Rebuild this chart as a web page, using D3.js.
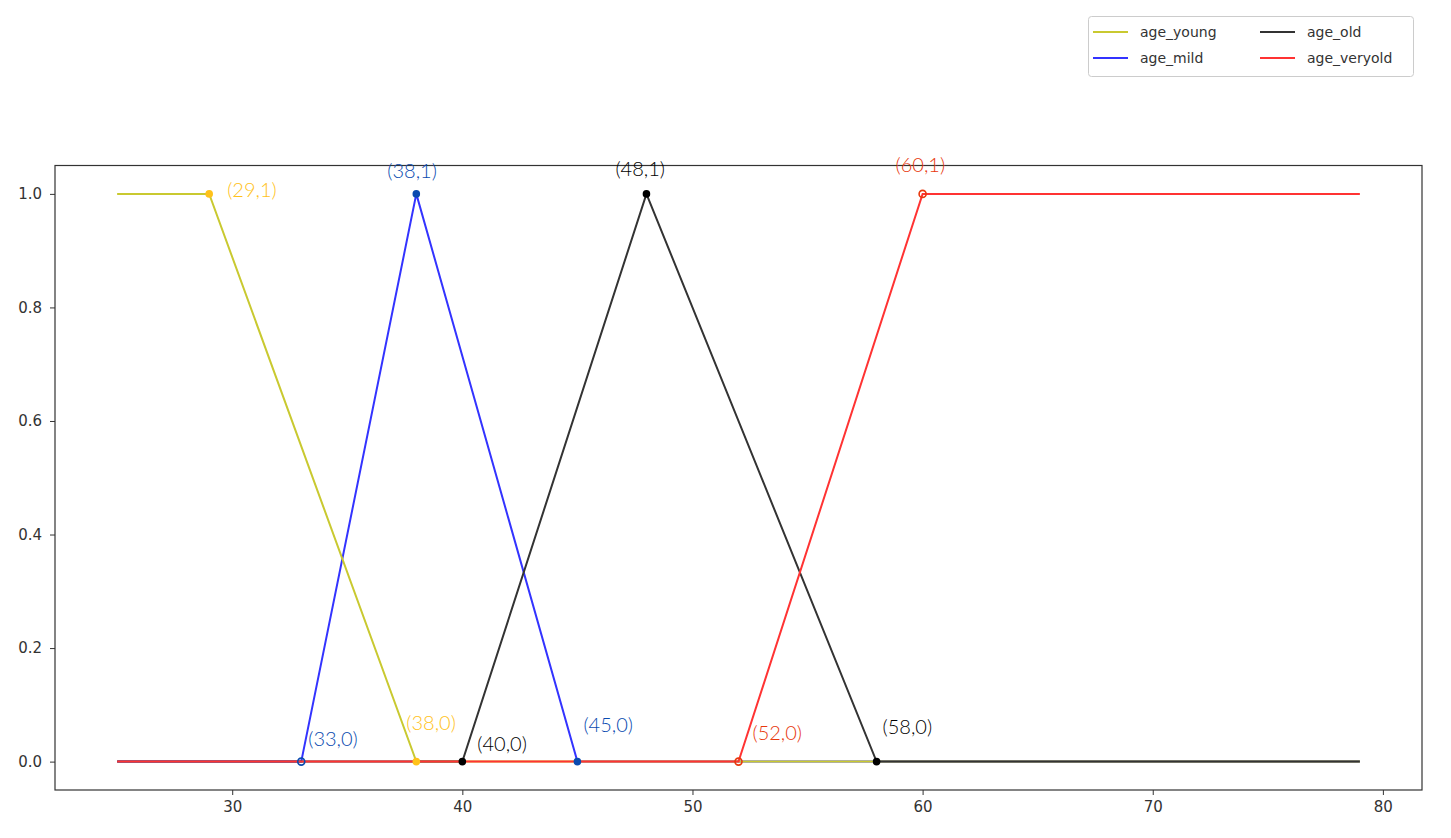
<!DOCTYPE html>
<html><head><meta charset="utf-8">
<script src="https://cdn.jsdelivr.net/npm/d3@7/dist/d3.min.js"></script>
<style>body{margin:0;background:#fff;}svg text{font-family:"DejaVu Sans",sans-serif;}</style>
</head><body>
<svg id="c" width="1451" height="838"></svg>
<script>
// Data
const seriesNames = ["age_young","age_mild","age_old","age_veryold"];
const seriesColors = ["#c9c930","#3333ff","#333333","#ff3333"];
const youngX = [25,29,38,79], youngY = [1,1,0,0];
const mildX = [25,33,38,45,79], mildY = [0,0,1,0,0];
const oldX = [25,40,48,58,79], oldY = [0,0,1,0,0];
const veryoldX = [25,52,60,79], veryoldY = [0,0,1,1];
const xTicks = [30,40,50,60,70,80];
const yTicks = [0.0,0.2,0.4,0.6,0.8,1.0];
// handwritten annotations: label, x, y, colour
const annLabels = ["(29,1)","(38,1)","(48,1)","(60,1)","(33,0)","(38,0)","(40,0)","(45,0)","(52,0)","(58,0)"];
const annX = [29,38,48,60,33,38,40,45,52,58];
const annY = [1,1,1,1,0,0,0,0,0,0];
const annColors = ["#ffc21a","#0a4bb0","#000000","#e8380d","#0a4bb0","#ffc21a","#000000","#0a4bb0","#e8380d","#000000"];

const svg = d3.select("#c");
const L=55, R=1422, T=165.5, B=790;
const x = d3.scaleLinear().domain([22.3,81.7]).range([L,R]);
const y = d3.scaleLinear().domain([-0.05,1.05]).range([B,T]);

const series = seriesNames.map((n,i)=>({name:n, c:seriesColors[i],
  xs:[youngX,mildX,oldX,veryoldX][i], ys:[youngY,mildY,oldY,veryoldY][i]}));
const line = d3.line().x(d=>x(d[0])).y(d=>y(d[1]));
const drawOrder = [1,0,2,3];
drawOrder.forEach(i=>{
  const s=series[i];
  svg.append("path").attr("d", line(s.xs.map((v,j)=>[v,s.ys[j]])))
    .attr("fill","none").attr("stroke",s.c).attr("stroke-width",2);
});

// axes
const xAxis = d3.axisBottom(x).tickValues(xTicks).tickSize(5).tickPadding(6).tickFormat(d3.format("d"));
const gx = svg.append("g").attr("transform",`translate(0,${B})`).call(xAxis);
const yAxis = d3.axisLeft(y).tickValues(yTicks).tickSize(5).tickPadding(8).tickFormat(d3.format(".1f"));
const gy = svg.append("g").attr("transform",`translate(${L},0)`).call(yAxis);
[gx,gy].forEach(g=>{
  g.select(".domain").remove();
  g.selectAll("text").attr("font-size",15).attr("fill","#333").style("font-family","DejaVu Sans");
  g.selectAll("line").attr("stroke","#333");
});
svg.append("rect").attr("x",L).attr("y",T).attr("width",R-L).attr("height",B-T)
  .attr("fill","none").attr("stroke","#333").attr("stroke-width",1.2);

// annotation dots and texts
const dx = [18,-29,-31,-27,7,-10,15,6,14,6];
const dy = [3,-16,-18,-22,-16,-32,-11,-30,-22,-28];
annLabels.forEach((lab,i)=>{
  const px=x(annX[i]), py=y(annY[i]);
  const hollow = (i===3||i===4||i===8);
  svg.append("circle").attr("cx",px).attr("cy",py).attr("r",hollow?3.5:3)
    .attr("fill",hollow?"none":annColors[i]).attr("stroke",annColors[i]).attr("stroke-width",1.6);
  svg.append("text").attr("x",px+dx[i]).attr("y",py+dy[i])
    .attr("font-size",20).attr("fill",annColors[i]).attr("font-weight",300)
    .style("font-family","Lato").text(lab);
});

// legend
const lg = svg.append("g");
lg.append("rect").attr("x",1088.5).attr("y",16.5).attr("width",325).attr("height",60)
  .attr("rx",3).attr("fill","#fff").attr("stroke","#ccc");
const lgPos = [[1093,32],[1093,58],[1260,32],[1260,58]];
series.forEach((s,i)=>{
  const [lx,ly]=lgPos[i];
  lg.append("line").attr("x1",lx).attr("x2",lx+35).attr("y1",ly).attr("y2",ly)
    .attr("stroke",s.c).attr("stroke-width",2);
  lg.append("text").attr("x",lx+47).attr("y",ly+5).attr("font-size",14).attr("fill","#333").text(s.name);
});
</script>
</body></html>
